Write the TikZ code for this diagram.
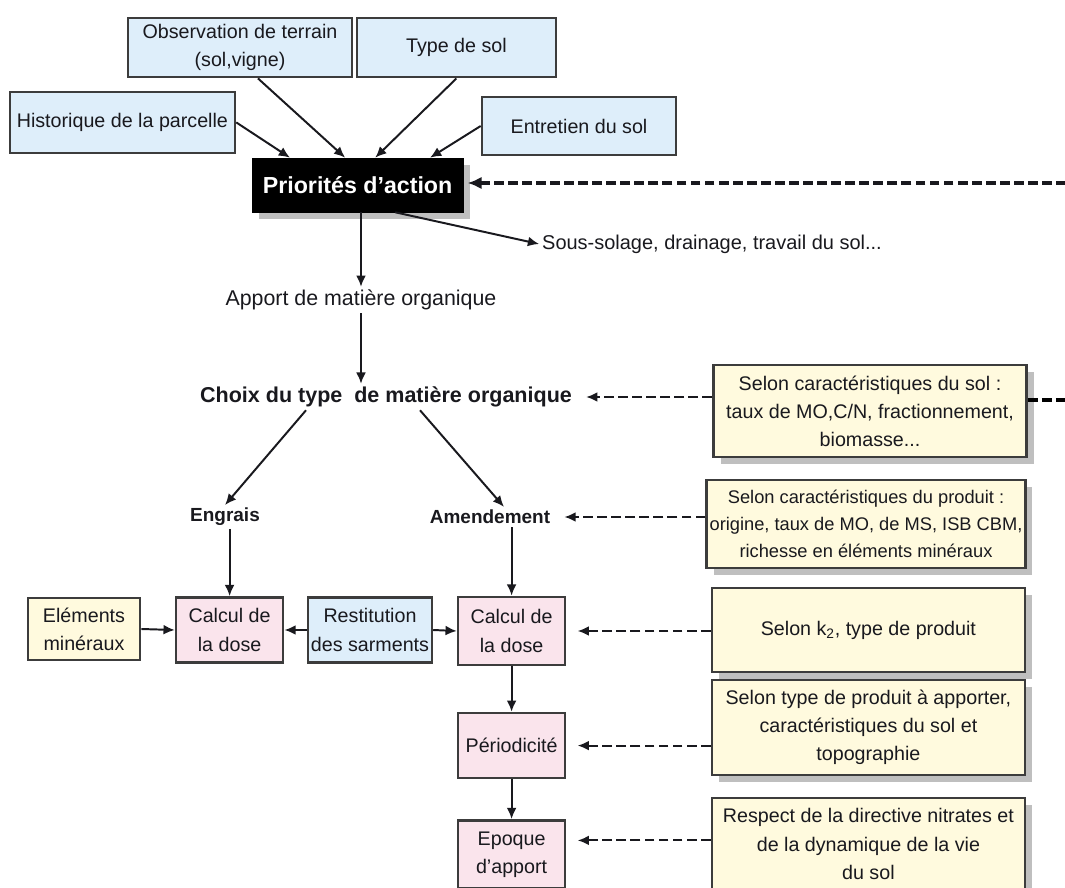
\documentclass[tikz,border=0pt]{standalone}
\usepackage{fontspec}
\setmainfont{Liberation Sans}
\usetikzlibrary{arrows.meta,calc,shadows}

\definecolor{boxblue}{RGB}{222,238,250}
\definecolor{boxcream}{RGB}{255,250,222}
\definecolor{boxpink}{RGB}{250,228,236}
\definecolor{edgegray}{RGB}{60,60,60}
\definecolor{inkgray}{RGB}{25,25,30}

\tikzset{
  box/.style={draw=edgegray, line width=1.9pt, align=center, text=inkgray, inner sep=2pt,
    font=\fontsize{14}{20}\selectfont},
  bluebox/.style={box, fill=boxblue},
  pinkbox/.style={box, fill=boxpink, minimum width=2.675cm, minimum height=1.625cm},
  shade/.style={drop shadow={shadow xshift=5pt, shadow yshift=-5pt, fill=black, opacity=0.25}},
  creambox/.style={box, fill=boxcream, minimum width=7.825cm, shade},
  label/.style={text=inkgray, inner sep=2pt},
  arr/.style={-{Latex[length=8pt,width=7pt]}, line width=1.4pt, draw=inkgray},
  darr/.style={arr, dash pattern=on 7pt off 3pt, shorten >=8pt},
  bigdash/.style={line width=2.3pt, dash pattern=on 7pt off 3pt},
}

\begin{document}
\begin{tikzpicture}
    \useasboundingbox (0,0) rectangle (26.625,-22.175);

    \node[bluebox, minimum width=5.6cm, minimum height=1.475cm] (obs) at (6.0,-1.19) {Observation de terrain\\(sol,vigne)};
    \node[bluebox, minimum width=4.975cm, minimum height=1.475cm] (typesol) at (11.41,-1.19) {Type de sol};
    \node[bluebox, minimum width=5.625cm, minimum height=1.525cm] (histo) at (3.06,-3.06) {Historique de la parcelle};
    \node[bluebox, minimum width=4.85cm, minimum height=1.45cm] (entretien) at (14.475,-3.15) {Entretien du sol};
    \node[draw=black, fill=black, text=white, minimum width=5.275cm, minimum height=1.35cm,
      font=\fontsize{16.5}{20}\selectfont\bfseries, shade] (prio) at (8.94,-4.625) {Priorités d'action};

    \node[label, font=\fontsize{14.2}{20}\selectfont] (sous) at (17.8,-6.1) {Sous-solage, drainage, travail du sol...};
    \node[label, font=\fontsize{15.2}{20}\selectfont] (apport) at (9.025,-7.5) {Apport de matière organique};
    \node[label, font=\fontsize{15.3}{20}\selectfont\bfseries] (choix) at (9.65,-9.925) {Choix du type\ \ de matière organique};
    \node[creambox, minimum height=2.3cm] (caracsol) at (21.75,-10.275)
      {Selon caractéristiques du sol :\\taux de MO,C/N, fractionnement,\\biomasse...};

    \node[label, font=\fontsize{13.5}{20}\selectfont\bfseries] (engrais) at (5.625,-12.925) {Engrais};
    \node[label, font=\fontsize{13.5}{20}\selectfont\bfseries] (amend) at (12.25,-12.925) {Amendement};
    \node[creambox, minimum width=7.95cm, minimum height=2.2cm, font=\fontsize{13}{19}\selectfont] (caracprod) at (21.65,-13.1)
      {Selon caractéristiques du produit :\\origine, taux de MO, de MS, ISB CBM,\\richesse en éléments minéraux};

    \node[box, fill=boxcream, minimum width=2.8cm, minimum height=1.55cm] (elem) at (2.1,-15.725) {Eléments\\minéraux};
    \node[pinkbox] (calcg) at (5.74,-15.75) {Calcul de\\la dose};
    \node[bluebox, minimum width=3.0cm, minimum height=1.625cm] (restit) at (9.25,-15.75) {Restitution\\des sarments};
    \node[pinkbox, minimum height=1.7cm] (calcd) at (12.79,-15.775) {Calcul de\\la dose};
    \node[creambox, minimum height=2.1cm] (selonk) at (21.71,-15.75) {Selon k\textsubscript{2}, type de produit};

    \node[pinkbox] (perio) at (12.79,-18.64) {Périodicité};
    \node[creambox, minimum height=2.375cm] (selontype) at (21.71,-18.19)
      {Selon type de produit à apporter,\\caractéristiques du sol et\\topographie};
    \node[pinkbox, minimum height=1.7cm] (epoque) at (12.79,-21.36) {Epoque\\d'apport};
    \node[creambox, minimum height=2.3cm] (respect) at (21.71,-21.1)
      {Respect de la directive nitrates et\\de la dynamique de la vie\\du sol};

    \coordinate (bordhaut) at (27,-4.575);
    \coordinate (bordsol) at (27,-10.0);
    \coordinate (epoqueport) at ($(epoque.east)+(0,0.35)$);

    \draw[arr] (histo.east) -- ($(prio.north)+(-1.69,0)$);
    \draw[arr] ($(obs.south)+(0.45,0)$) -- ($(prio.north)+(-0.31,0)$);
    \draw[arr] (typesol.south) -- ($(prio.north)+(0.44,0)$);
    \draw[arr] (entretien.west) -- ($(prio.north)+(1.81,0)$);
    \draw[arr, bigdash, -{Latex[length=10pt,width=9pt]}, shorten >=3pt] (bordhaut) -- (prio.east |- bordhaut);
    \draw[bigdash] (caracsol.east |- bordsol) -- (bordsol);

    \draw[arr] (prio.south -| apport.north) -- (apport.north);
    \draw[arr] ($(prio.south)+(0.94,0)$) -- (sous.west);
    \draw[arr] (apport.south) -- (apport.south |- choix.north);
    \draw[darr] (caracsol.west |- choix.east) -- (choix.east);

    \draw[arr] ($(choix.south)+(-2.0,0)$) -- (engrais.north);
    \draw[arr] ($(choix.south)+(0.85,0)$) -- ($(amend.north)+(0.35,0)$);
    \draw[darr] (caracprod.west |- amend.east) -- (amend.east);

    \draw[arr] (calcg.north |- engrais.south) -- (calcg.north);
    \draw[arr] (calcd.north |- amend.south) -- (calcd.north);
    \draw[arr] (elem.east) -- (calcg.west);
    \draw[arr] (restit.west) -- (calcg.east);
    \draw[arr] (restit.east) -- (calcd.west);
    \draw[darr] (selonk.west |- calcd.east) -- (calcd.east);

    \draw[arr] (calcd.south) -- (perio.north);
    \draw[darr] (selontype.west |- perio.east) -- (perio.east);
    \draw[arr] (perio.south) -- (epoque.north);
    \draw[darr] (respect.west |- epoqueport) -- (epoqueport);
\end{tikzpicture}
\end{document}
